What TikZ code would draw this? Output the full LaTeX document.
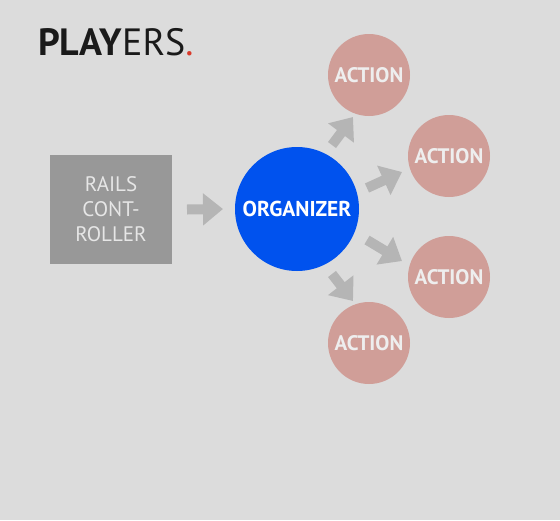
\documentclass[tikz,border=0pt]{standalone}
\usepackage{fontspec}
\setmainfont{PT Sans}
\usetikzlibrary{arrows.meta}
\definecolor{bg}{HTML}{DCDCDC}
\definecolor{boxgray}{HTML}{989898}
\definecolor{boxtext}{HTML}{E6E6E6}
\definecolor{arrgray}{HTML}{B5B5B5}
\definecolor{orgblue}{HTML}{0052EE}
\definecolor{actpink}{HTML}{D09E98}
\definecolor{acttext}{HTML}{EEEEEE}
\definecolor{titlegray}{HTML}{1A1A1A}
\definecolor{dotred}{HTML}{D93A2B}
\tikzset{
  railsbox/.style={fill=boxgray, minimum width=122pt, minimum height=109pt, inner sep=0pt, outer sep=0pt,
    text=boxtext, font=\fontsize{21}{25}\selectfont, align=center},
  orgnode/.style={circle, fill=orgblue, minimum size=124pt, inner sep=0pt, outer sep=0pt,
    text=white, font=\fontsize{21.5}{24}\selectfont\bfseries},
  actnode/.style={circle, fill=actpink, minimum size=82pt, inner sep=0pt, outer sep=0pt,
    text=acttext, font=\fontsize{21}{24}\selectfont\bfseries},
  blockarrow/.style={draw=arrgray, line width=10pt, -{Triangle[width=31pt,length=20pt]}, arrgray},
}
\begin{document}
\begin{tikzpicture}[x=1pt,y=-1pt]
\fill[bg] (0,0) rectangle (560,520);
\useasboundingbox (0,0) rectangle (560,520);
\node[anchor=base west, inner sep=0pt, text=titlegray, font=\fontsize{38}{40}\selectfont] (title) at (38,55)
  {\textbf{PLAY}ERS\textcolor{dotred}{.}};
\node[railsbox] (rails) at (111,209.5) {RAILS\\CONT-\\ROLLER};
\node[orgnode] (org) at (297,209) {ORGANIZER};
\node[actnode] (a1) at (369,75) {ACTION};
\node[actnode] (a2) at (449,156) {ACTION};
\node[actnode] (a3) at (449,277) {ACTION};
\node[actnode] (a4) at (369,343) {ACTION};
\draw[blockarrow] ([xshift=15pt]rails.east) -- ([xshift=-12pt]org.west);
\draw[blockarrow] ([shift={(35,-64)}]org.center) -- ([shift={(-16,42)}]a1.center);
\draw[blockarrow] ([shift={(70,-21)}]org.center) -- ([shift={(-47,16)}]a2.center);
\draw[blockarrow] ([shift={(70,31)}]org.center) -- ([shift={(-47,-16)}]a3.center);
\draw[blockarrow] ([shift={(35,65)}]org.center) -- ([shift={(-16,-42)}]a4.center);
\end{tikzpicture}
\end{document}
